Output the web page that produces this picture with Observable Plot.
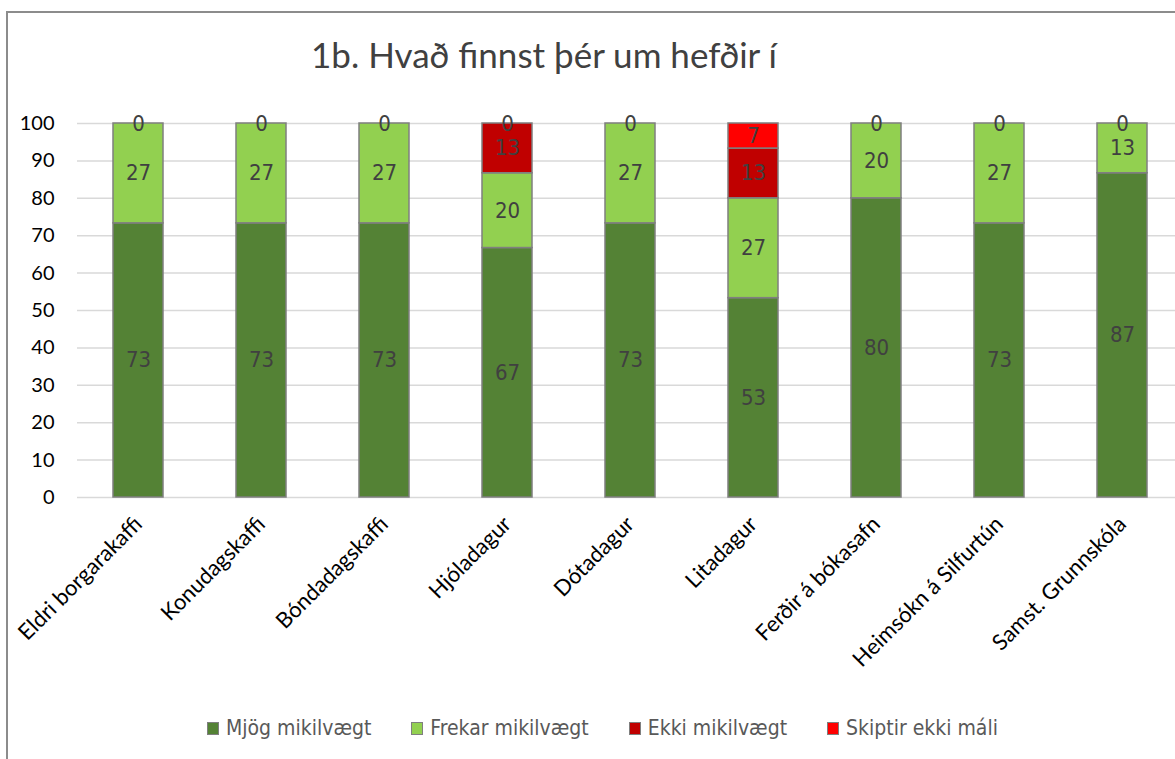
<!DOCTYPE html>
<html>
<head>
<meta charset="utf-8">
<script src="https://cdn.jsdelivr.net/npm/d3@7"></script>
<script src="https://cdn.jsdelivr.net/npm/@observablehq/plot@0.6"></script>
<style>
  html, body { margin: 0; padding: 0; background: #fff; }
  #wrap { position: relative; width: 1175px; height: 759px; overflow: hidden; background: #fff; }
  #frame { position: absolute; left: 6px; top: 11px; width: 3000px; height: 3000px;
           border-top: 2px solid #8c8c8c; border-left: 2px solid #8c8c8c; }
  #title { position: absolute; left: 0; width: 1088px; top: 33px; text-align: center;
           font-family: Lato, "Open Sans", sans-serif; font-size: 35px; color: #404040; line-height: 42px; }
  #chart { position: absolute; left: 0; top: 0; width: 1184px; }
  #chart svg { max-width: none !important; }
  #legend { position: absolute; left: 207px; top: 716px; display: flex; align-items: center;
            font-family: "Liberation Sans Narrow", "DejaVu Sans Condensed", sans-serif; font-size: 21px; color: #595959; }
  .item { display: flex; align-items: center; margin-right: 40px; }
  .sw { width: 10px; height: 11px; border: 1px solid #7f7f7f; margin-right: 7px; box-sizing: content-box; }
</style>
</head>
<body>
<div id="wrap">
  <div id="frame"></div>
  <div id="title">1b. Hvað finnst þér um hefðir í</div>
  <div id="chart"></div>
  <div id="legend"></div>
</div>
<script>
const categories = ["Eldri borgarakaffi", "Konudagskaffi", "Bóndadagskaffi", "Hjóladagur", "Dótadagur", "Litadagur", "Ferðir á bókasafn", "Heimsókn á Silfurtún", "Samst. Grunnskóla"];
const seriesNames = ["Mjög mikilvægt", "Frekar mikilvægt", "Ekki mikilvægt", "Skiptir ekki máli"];
const seriesColors = ["#548235", "#92d050", "#c00000", "#ff0000"];
const mjog    = [73.3, 73.3, 73.3, 66.7, 73.3, 53.3, 80, 73.3, 86.7];
const frekar  = [26.7, 26.7, 26.7, 20, 26.7, 26.7, 20, 26.7, 13.3];
const ekki    = [0, 0, 0, 13.3, 0, 13.3, 0, 0, 0];
const skiptir = [0, 0, 0, 0, 0, 6.7, 0, 0, 0];
const yTicks = [0, 10, 20, 30, 40, 50, 60, 70, 80, 90, 100];

const seriesValues = [mjog, frekar, ekki, skiptir];
const rows = [];
categories.forEach((c, i) => {
  let base = 0;
  seriesValues.forEach((vals, s) => {
    const v = vals[i];
    rows.push({category: c, series: seriesNames[s], value: v, y1: base, y2: base + v});
    base += v;
  });
});
// the top "0" label belongs to the last series
const labelRows = rows.filter(d => d.value > 0 || d.series === "Skiptir ekki máli");

const W = 1184, H = 700;
const chart = Plot.plot({
  width: W,
  height: H,
  marginLeft: 77,
  marginRight: 0,
  marginTop: 123,
  marginBottom: H - 497,
  style: {fontFamily: "Lato, 'Open Sans', sans-serif", fontSize: "19px", color: "#000", background: "transparent", maxWidth: "none"},
  x: {type: "band", domain: categories, paddingInner: 0.59, paddingOuter: 0.295, label: null},
  y: {domain: [0, 100], label: null},
  color: {domain: seriesNames, range: seriesColors},
  marks: [
    Plot.gridY(yTicks, {stroke: "#d9d9d9", strokeOpacity: 1, strokeWidth: 1.5}),
    Plot.axisY({ticks: yTicks, tickSize: 0, tickPadding: 23, fontSize: 20, label: null}),
    Plot.axisX({tickRotate: -45, tickSize: 0, tickPadding: 23, fontSize: 22, label: null}),
    Plot.barY(rows.filter(d => d.value > 0), {x: "category", y1: "y1", y2: "y2", fill: "series", stroke: "#7f7f7f", strokeWidth: 1.5}),
    Plot.text(labelRows, {x: "category", y: d => (d.y1 + d.y2) / 2, text: d => String(Math.round(d.value)),
      fill: "#404040", fontSize: 22, fontFamily: "'Liberation Sans Narrow', 'DejaVu Sans Condensed', sans-serif"})
  ]
});
document.getElementById("chart").appendChild(chart);

const legend = document.getElementById("legend");
seriesNames.forEach((n, i) => {
  const it = document.createElement("div");
  it.className = "item";
  const sw = document.createElement("div");
  sw.className = "sw";
  sw.style.background = seriesColors[i];
  const t = document.createElement("span");
  t.textContent = n;
  it.appendChild(sw); it.appendChild(t);
  legend.appendChild(it);
});
</script>
</body>
</html>
